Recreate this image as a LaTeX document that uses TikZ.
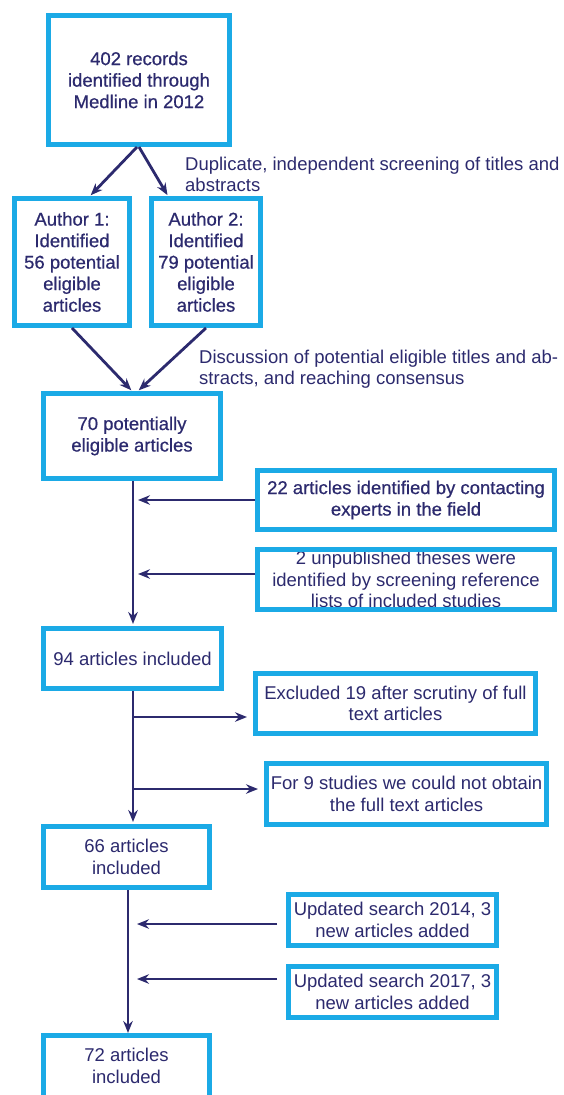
\documentclass[tikz,border=0pt]{standalone}
\usepackage{fontspec}
\setmainfont{Liberation Sans}
\newfontfamily\semib[FakeBold=0.6]{Liberation Sans}
\usetikzlibrary{arrows.meta,calc}
\definecolor{boxc}{HTML}{1BAAE6}
\definecolor{navy}{HTML}{2C2A6E}
\begin{document}
\begin{tikzpicture}[x=1pt,y=1pt,
 box/.style={draw=boxc,line width=5pt,fill=white,inner sep=0pt,align=center,text=navy,font=\fontsize{18.5}{21.5}\selectfont},
 bbox/.style={box,font=\fontsize{18.5}{21.5}\semib},
 arr/.style={draw=navy,line width=2.8pt,-{Stealth[length=12pt,width=9.5pt,inset=4pt]}},
 lbl/.style={text=navy,align=left,inner sep=0pt,anchor=north west,font=\fontsize{18.5}{21}\selectfont}]
\clip (0,0) rectangle (563,-1095);
\fill[white] (0,0) rectangle (563,-1095);

\node[bbox,minimum width=181pt,minimum height=129pt] (top) at (139,-80) {402 records\\identified through\\Medline in 2012};
\node[bbox,minimum width=115pt,minimum height=127pt] (A1) at (72,-262) {Author 1:\\Identified\\56 potential\\eligible\\articles};
\node[bbox,minimum width=109pt,minimum height=127pt] (A2) at (206,-262) {Author 2:\\Identified\\79 potential\\eligible\\articles};
\node[bbox,minimum width=177pt,minimum height=85pt] (n70) at (132,-436) {70 potentially\\eligible articles};
\node[bbox,minimum width=297pt,minimum height=59pt] (n22) at (406,-500) {22 articles identified by contacting\\experts in the field};
\node[box,minimum width=297pt,minimum height=60pt] (unpub) at (406,-579.5) {};
\node[box,draw=none,fill=none] (unpubtxt) at (unpub.center) {2 unpublished theses were\\identified by screening reference\\lists of included studies};
\draw[boxc,line width=5pt] ([shift={(2.5,-2.5)}]unpub.north west) rectangle ([shift={(-2.5,2.5)}]unpub.south east);
\node[box,minimum width=178pt,minimum height=60pt] (n94) at (132.5,-658.5) {94 articles included};
\node[box,minimum width=280pt,minimum height=60pt] (excl) at (395.5,-703.5) {Excluded 19 after scrutiny of full\\text articles};
\node[box,minimum width=280pt,minimum height=61pt] (for9) at (406.5,-794) {For 9 studies we could not obtain\\the full text articles};
\node[box,minimum width=166pt,minimum height=61pt] (n66) at (126.5,-857) {66 articles\\included};
\node[box,minimum width=208pt,minimum height=51pt] (u2014) at (392.5,-920) {Updated search 2014, 3\\new articles added};
\node[box,minimum width=208pt,minimum height=51pt] (u2017) at (392.5,-992) {Updated search 2017, 3\\new articles added};
\node[box,minimum width=166pt,minimum height=85pt] (n72) at (126.5,-1078) {};
\node[box,draw=none,fill=none] (n72txt) at (126.5,-1066) {72 articles\\included};

\node[lbl] (dup) at (185,-156.5) {Duplicate, independent screening of titles and\\abstracts};
\node[lbl] (disc) at (199,-349.5) {Discussion of potential eligible titles and ab-\\stracts, and reaching consensus};

\draw[arr,shorten >=1pt] ([xshift=-2pt]top.south) -- ([xshift=18pt]A1.north);
\draw[arr,shorten >=1pt] (top.south) -- ([xshift=-38pt]A2.north);
\draw[arr,shorten >=1pt] (A1.south) -- (n70.north);
\draw[arr,shorten >=1pt] (A2.south) -- ([xshift=6pt]n70.north);

\coordinate (t0) at ($(n70.south)+(1,0)$);
\coordinate (t1) at ($(n70.south)+(6,0)$);
\draw[arr,shorten >=2pt] (t0) -- (t0 |- n94.north);
\draw[arr] (n22.west) -- (t1 |- n22.west);
\coordinate (u1) at ([yshift=5.5pt]unpub.west);
\draw[arr] (u1) -- (t1 |- u1);

\coordinate (t2) at ($(n94.south)+(0.5,0)$);
\draw[arr,shorten >=2pt] (t2) -- (t2 |- n66.north);
\coordinate (b1) at ($(t2)+(0,-26)$);
\coordinate (b2) at ($(t2)+(0,-98)$);
\draw[arr,shorten >=6pt] (b1) -- (b1 -| excl.west);
\draw[arr,shorten >=6pt] (b2) -- (b2 -| for9.west);

\coordinate (t3) at ($(n66.south)+(1.5,0)$);
\draw[arr] (t3) -- (t3 |- n72.north);
\coordinate (m1) at ($(t3)+(9,-34)$);
\coordinate (m2) at ($(t3)+(9,-89)$);
\draw[arr,shorten <=9pt] (m1 -| u2014.west) -- (m1);
\draw[arr,shorten <=9pt] (m2 -| u2017.west) -- (m2);
\end{tikzpicture}
\end{document}
